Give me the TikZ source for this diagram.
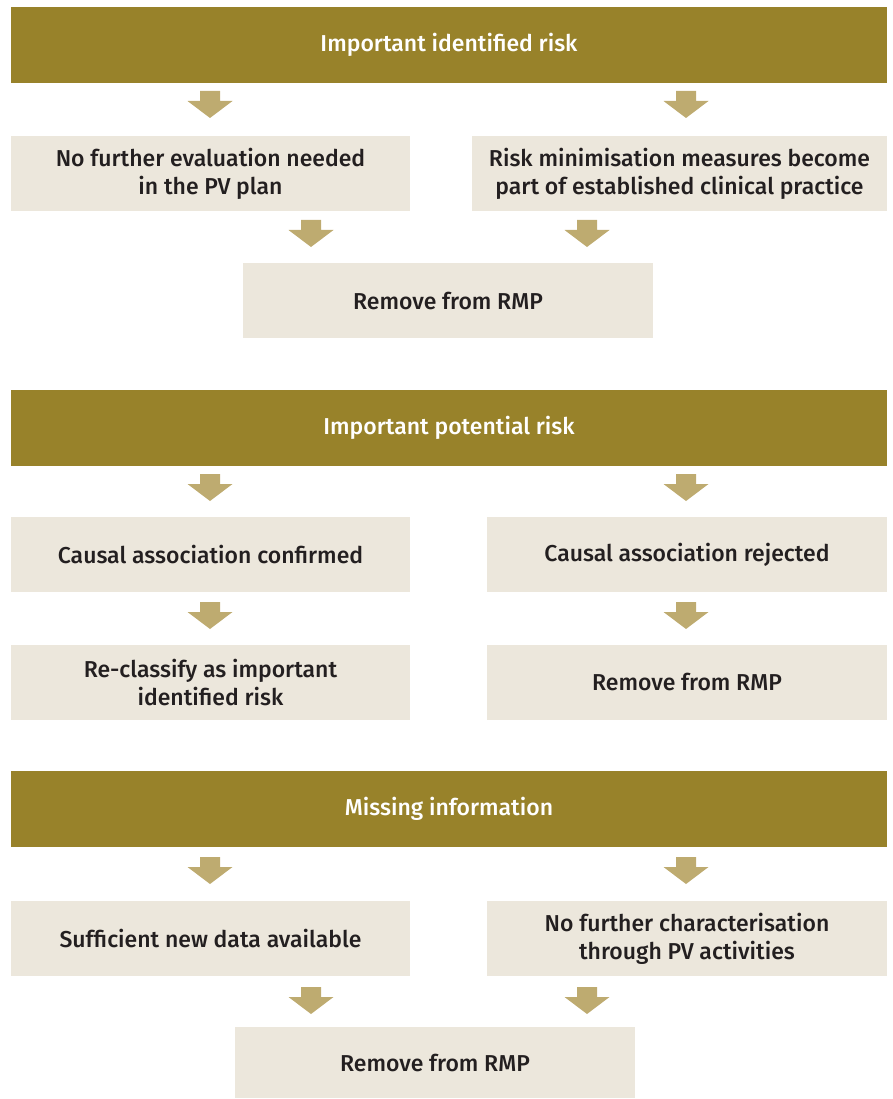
\documentclass[tikz,border=0pt]{standalone}
\usepackage{fontspec}
\setmainfont{Fira Sans}[UprightFont={* Medium}]
\usepackage{tikz}
\usetikzlibrary{positioning}

\definecolor{barcol}{HTML}{98822A}
\definecolor{boxcol}{HTML}{ECE7DC}
\definecolor{arrcol}{HTML}{BEAB70}
\definecolor{txtcol}{HTML}{231F20}

\begin{document}
\begin{tikzpicture}[x=1pt, y=-1pt, font=\fontsize{23}{28}\selectfont,
    bar/.style={fill=barcol, text=white, minimum width=876pt, minimum height=76pt, inner sep=0pt},
    stepbox/.style={fill=boxcol, text=txtcol, align=center, minimum height=75pt, inner sep=0pt},
    pics/blockarrow/.style={code={
        \fill[arrcol] (-10,0) -- (10,0) -- (10,10) -- (22.5,10) -- (0,27) -- (-22.5,10) -- (-10,10) -- cycle;}}]
    \useasboundingbox (0,0) rectangle (892,1099);

    % Section 1: identified risk
    \node[bar] (identified) at (449,45) {Important identified risk};
    \node[stepbox, minimum width=399pt] (noeval) at (210.5,173.5) {No further evaluation needed\\in the PV plan};
    \node[stepbox, minimum width=415pt] (minimise) at (679.5,173.5) {Risk minimisation measures become\\part of established clinical practice};
    \node[stepbox, minimum width=410pt] (removeA) at (448,300.5) {Remove from RMP};

    % Section 2: potential risk
    \node[bar] (potential) at (449,427.5) {Important potential risk};
    \node[stepbox, minimum width=399pt] (confirmed) at (210.5,554.5) {Causal association confirmed};
    \node[stepbox, minimum width=400pt] (rejected) at (687,554.5) {Causal association rejected};
    \node[stepbox, minimum width=399pt] (reclassify) at (210.5,682) {Re-classify as important\\identified risk};
    \node[stepbox, minimum width=400pt] (removeB) at (687,682) {Remove from RMP};

    % Section 3: missing information
    \node[bar] (missing) at (449,808.5) {Missing information};
    \node[stepbox, minimum width=399pt] (sufficient) at (210.5,938.5) {Sufficient new data available};
    \node[stepbox, minimum width=400pt] (nofurther) at (687,938.5) {No further characterisation\\through PV activities};
    \node[stepbox, minimum width=400pt, minimum height=71pt] (removeC) at (435,1062.5) {Remove from RMP};

    % Block arrows
    \foreach \ax/\ay in {210/91, 686/91, 311/220, 587/220,
                         210/474, 686/474, 210/602, 686/602,
                         210/857, 686/857, 311/987, 587/987} {
        \pic at (\ax,\ay) {blockarrow};
    }
\end{tikzpicture}
\end{document}
